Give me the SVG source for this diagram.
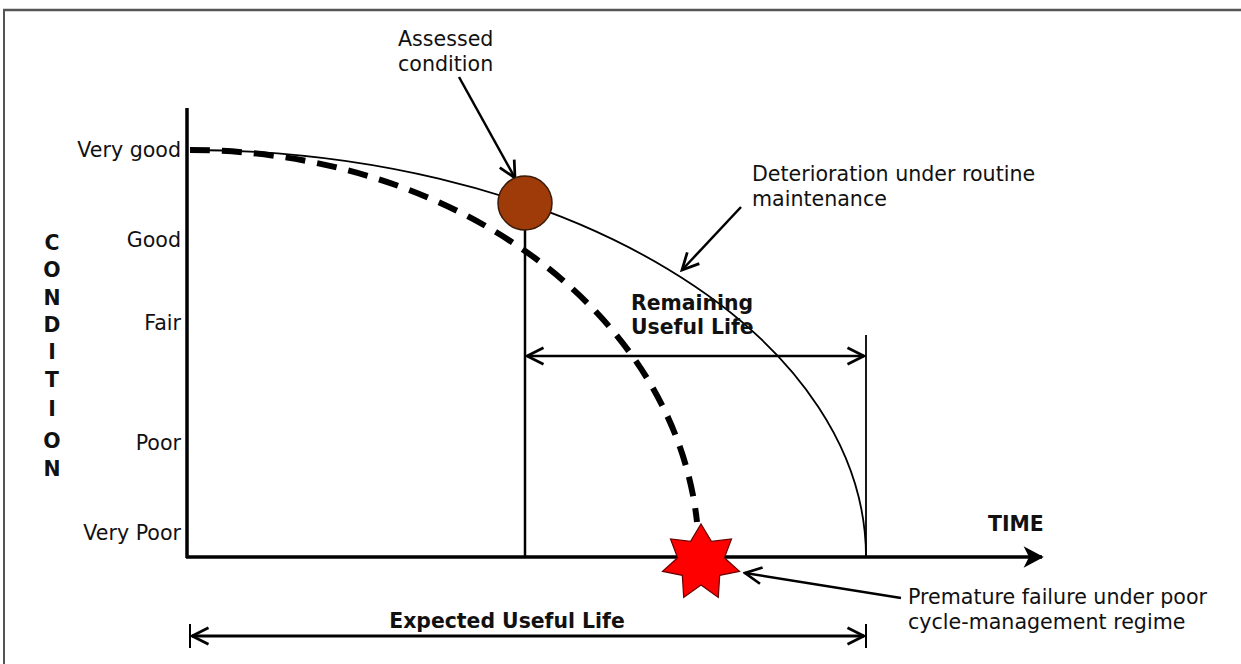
<svg xmlns="http://www.w3.org/2000/svg" width="1241" height="664" viewBox="0 0 1241 664">
<defs>
<marker id="arr" viewBox="0 0 20 20" refX="18" refY="10" markerWidth="22" markerHeight="22" markerUnits="userSpaceOnUse" orient="auto-start-reverse">
<path d="M3,2.5 L18,10 L3,17.5" fill="none" stroke="#000" stroke-width="2.5"/>
</marker>
<marker id="axarr" viewBox="0 0 20 20" refX="18" refY="10" markerWidth="22" markerHeight="22" markerUnits="userSpaceOnUse" orient="auto">
<path d="M3,2 L18,10 L3,18 L7,10 Z" fill="#000" stroke="#000" stroke-width="1.5" stroke-linejoin="miter"/>
</marker>
</defs>
<style>
.t{font-family:"DejaVu Sans","Verdana",sans-serif;font-size:20.6px;fill:#111;}
.b{font-family:"DejaVu Sans","Verdana",sans-serif;font-size:20.4px;font-weight:bold;fill:#111;}
.ln{stroke:#000;fill:none;}
</style>
<rect width="1241" height="664" fill="#fff"/>
<g id="frame">
<line x1="3" y1="10" x2="1241" y2="10" stroke="#555" stroke-width="2.5"/>
<line x1="4" y1="9" x2="4" y2="664" stroke="#555" stroke-width="2"/>
</g>
<g id="axes">
<line class="ln" x1="187" y1="108" x2="187" y2="558" stroke-width="3.5"/>
<line class="ln" x1="186" y1="557" x2="1042" y2="557" stroke-width="3.5" marker-end="url(#axarr)"/>
<text class="b" x="988" y="531">TIME</text>
<g id="ylabel" class="b" text-anchor="middle">
<text x="52" y="250">C</text>
<text x="52" y="277">O</text>
<text x="52" y="305">N</text>
<text x="52" y="332">D</text>
<text x="52" y="359">I</text>
<text x="52" y="387">T</text>
<text x="52" y="416">I</text>
<text x="52" y="448">O</text>
<text x="52" y="476">N</text>
</g>
<g id="yticks" class="t" text-anchor="end">
<text x="181" y="157">Very good</text>
<text x="181" y="247">Good</text>
<text x="181" y="330">Fair</text>
<text x="181" y="450">Poor</text>
<text x="181" y="540">Very Poor</text>
</g>
</g>
<g id="connectors">
<path id="solid-curve" class="ln" d="M190,150 A676,407 0 0 1 866,557" stroke-width="1.8"/>
<path id="dashed-curve" class="ln" d="M190,150 A510,407 0 0 1 697,522" stroke-width="6" stroke-dasharray="20,12"/>
<line class="ln" x1="525" y1="225" x2="525" y2="557" stroke-width="2.5"/>
<line class="ln" x1="866" y1="335" x2="866" y2="557" stroke-width="1.8"/>
<line class="ln" x1="527" y1="356" x2="864" y2="356" stroke-width="2.5" marker-start="url(#arr)" marker-end="url(#arr)"/>
<line class="ln" x1="190" y1="624" x2="190" y2="648" stroke="#777" stroke-width="2"/>
<line class="ln" x1="866" y1="624" x2="866" y2="648" stroke-width="2"/>
<line class="ln" x1="192" y1="636" x2="864" y2="636" stroke-width="3" marker-start="url(#arr)" marker-end="url(#arr)"/>
<line class="ln" x1="459" y1="77" x2="515" y2="178" stroke-width="2.5" marker-end="url(#arr)"/>
<line class="ln" x1="741" y1="207" x2="682" y2="270" stroke-width="2.5" marker-end="url(#arr)"/>
<line class="ln" x1="901" y1="598" x2="745" y2="573" stroke-width="2.5" marker-end="url(#arr)"/>
</g>
<g id="assessed-node">
<circle cx="525" cy="203" r="27" fill="#9E3B08" stroke="#3a1a08" stroke-width="1.5"/>
<text class="t" x="398" y="46">Assessed</text>
<text class="t" x="398" y="71">condition</text>
</g>
<g id="failure-node">
<polygon points="701,524 711.4,541.4 731.5,538.9 724.4,557.8 739.5,571.4 719.7,575.3 718.3,597.5 701,585 683.7,597.5 682.3,575.3 662.5,571.4 677.6,557.8 670.5,538.9 690.6,541.4" fill="#F00" stroke="#600" stroke-width="1.2"/>
<text class="t" x="908" y="604">Premature failure under poor</text>
<text class="t" x="908" y="629">cycle-management regime</text>
</g>
<g id="deterioration-label">
<text class="t" x="752" y="181">Deterioration under routine</text>
<text class="t" x="752" y="206">maintenance</text>
</g>
<g id="rul-label">
<text class="b" x="631" y="310">Remaining</text>
<text class="b" x="631" y="334">Useful Life</text>
</g>
<g id="eul-label">
<text class="b" x="507" y="628" text-anchor="middle">Expected Useful Life</text>
</g>
</svg>
